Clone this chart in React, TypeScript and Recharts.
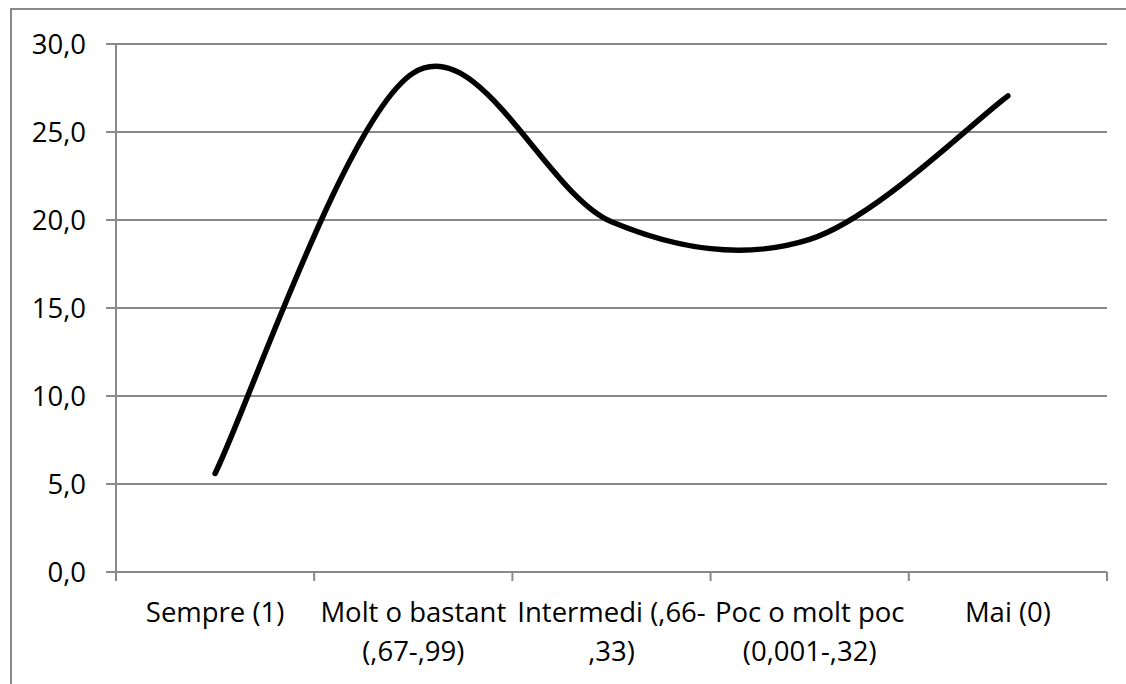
import React from 'react';
import { LineChart, Line, XAxis, YAxis, CartesianGrid } from 'recharts';

const categories = [
  'Sempre (1)',
  'Molt o bastant\n(,67-,99)',
  'Intermedi (,66-\n,33)',
  'Poc o molt poc\n(0,001-,32)',
  'Mai (0)',
];
const values = [5.6, 28.35, 19.9, 18.9, 27.05];
const yTicks = [0, 5, 10, 15, 20, 25, 30];

const data = categories.map((c, i) => ({ name: c, value: values[i] }));

const FONT = '"Open Sans", Lato, sans-serif';
const FONT_SIZE = 27.5;
const AXIS_GRAY = '#898989';

// Excel-like smoothing (uniform Catmull-Rom as cubic Bezier)
const excelSmooth: any = (context: any) => {
  let pts: number[][] = [];
  return {
    areaStart() {},
    areaEnd() {},
    lineStart() {
      pts = [];
    },
    point(x: number, y: number) {
      pts.push([+x, +y]);
    },
    lineEnd() {
      if (!pts.length) return;
      context.moveTo(pts[0][0], pts[0][1]);
      for (let i = 0; i < pts.length - 1; i++) {
        const p0 = pts[Math.max(0, i - 1)];
        const p1 = pts[i];
        const p2 = pts[i + 1];
        const p3 = pts[Math.min(pts.length - 1, i + 2)];
        const c1x = p1[0] + (p2[0] - p0[0]) / 6;
        const c1y = p1[1] + (p2[1] - p0[1]) / 6;
        const c2x = p2[0] - (p3[0] - p1[0]) / 6;
        const c2y = p2[1] - (p3[1] - p1[1]) / 6;
        context.bezierCurveTo(c1x, c1y, c2x, c2y, p2[0], p2[1]);
      }
    },
  };
};

const XTick = (props: any) => {
  const { x, y, payload, index } = props;
  const half = payload && typeof payload.offset === 'number' && payload.offset > 0 ? payload.offset : 99.1;
  const lines = String(payload.value).split('\n');
  const last = index === categories.length - 1;
  return (
    <g>
      <line x1={x - half} y1={y} x2={x - half} y2={y + 9} stroke={AXIS_GRAY} strokeWidth={2} />
      {last && <line x1={x + half} y1={y} x2={x + half} y2={y + 9} stroke={AXIS_GRAY} strokeWidth={2} />}
      {lines.map((l, i) => (
        <text
          key={i}
          x={x}
          y={y + 50 + i * 39}
          textAnchor="middle"
          fill="#000"
          fontFamily={FONT}
          fontSize={FONT_SIZE}
        >
          {l}
        </text>
      ))}
    </g>
  );
};

const fmt = (v: number) => v.toFixed(1).replace('.', ',');

export default function App() {
  return (
    <div
      style={{
        position: 'fixed',
        left: 0,
        top: 0,
        width: 1126,
        height: 684,
        overflow: 'hidden',
        background: '#fff',
      }}
    >
      <div
        style={{
          position: 'absolute',
          left: 10,
          top: 8,
          width: 1200,
          height: 800,
          borderLeft: `2px solid ${AXIS_GRAY}`,
          borderTop: `2px solid ${AXIS_GRAY}`,
        }}
      />
      <div style={{ position: 'absolute', left: 0, top: 0 }}>
        <LineChart
          width={1126}
          height={684}
          data={data}
          margin={{ top: 44, right: 19, bottom: 12, left: 30 }}
        >
          <CartesianGrid vertical={false} stroke={AXIS_GRAY} strokeWidth={2} />
          <XAxis
            dataKey="name"
            scale="band"
            height={100}
            axisLine={{ stroke: AXIS_GRAY, strokeWidth: 2 }}
            tickLine={false}
            tickSize={0}
            tickMargin={0}
            interval={0}
            tick={<XTick />}
          />
          <YAxis
            width={86}
            domain={[0, 30]}
            ticks={yTicks}
            interval={0}
            tickFormatter={fmt}
            axisLine={{ stroke: AXIS_GRAY, strokeWidth: 2 }}
            tickLine={{ stroke: AXIS_GRAY, strokeWidth: 2 }}
            tickSize={10}
            tickMargin={20}
            tick={{ fill: '#000', fontFamily: FONT, fontSize: FONT_SIZE }}
          />
          <Line
            dataKey="value"
            type={excelSmooth}
            stroke="#000"
            strokeWidth={5.5}
            strokeLinecap="round"
            dot={false}
            activeDot={false}
            isAnimationActive={false}
          />
        </LineChart>
      </div>
    </div>
  );
}
